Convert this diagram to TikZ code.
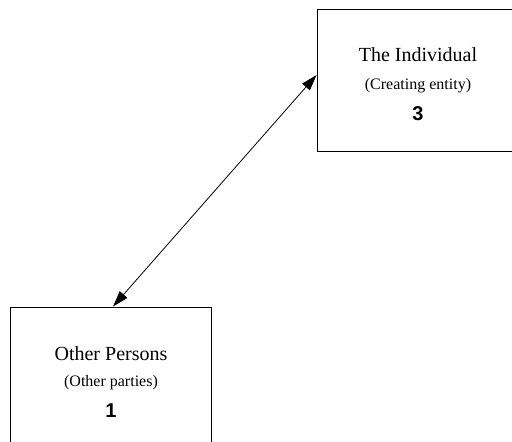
\documentclass[tikz,border=0pt]{standalone}
\usepackage{fontspec}
\setmainfont{Liberation Serif}
\newfontfamily\numfont{Liberation Sans}
\usetikzlibrary{arrows.meta}
\begin{document}
\begin{tikzpicture}[x=1pt,y=1pt,
  entity/.style={draw=black, line width=0.9pt, rectangle, inner sep=0pt},
  title/.style={anchor=base, inner sep=0pt, font=\fontsize{20}{24}\selectfont},
  subtitle/.style={anchor=base, inner sep=0pt, font=\fontsize{16}{19}\selectfont},
  number/.style={anchor=base, inner sep=0pt, font=\numfont\bfseries\fontsize{20}{24}\selectfont},
  link/.style={draw=black, line width=0.8pt, {Triangle[length=16pt,width=10pt]}-{Triangle[length=16pt,width=10pt]}}]
\useasboundingbox (0,0) rectangle (512,442);
\clip (0,0) rectangle (512,442);
% the two parties
\node[entity, minimum width=201pt, minimum height=155pt] (other) at (110.5,57.5) {};
\node[entity, minimum width=202pt, minimum height=142pt] (indiv) at (418,362) {};
% labels of the individual
\node[title] (indivname) at (418,380) {The Individual};
\node[subtitle] (indivrole) at (418,352) {(Creating entity)};
\node[number] (indivnum) at (418,321) {3};
% labels of the other persons
\node[title] (othername) at (111,81) {Other Persons};
\node[subtitle] (otherrole) at (111,55) {(Other parties)};
\node[number] (othernum) at (111,24) {1};
% two-way relation
\draw[link] ([xshift=2.5pt]other.north) -- ([yshift=5pt]indiv.west);
\end{tikzpicture}
\end{document}
